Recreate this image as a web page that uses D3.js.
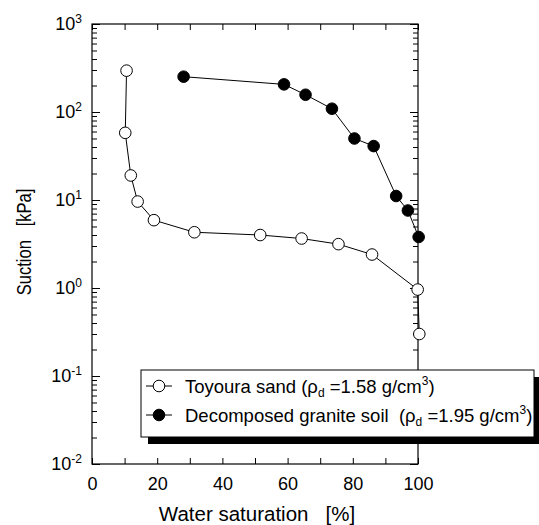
<!DOCTYPE html>
<html>
<head>
<meta charset="utf-8">
<script src="https://cdn.jsdelivr.net/npm/d3@7"></script>
<style>
  body { margin: 0; background: #fff; }
  text { font-family: "Liberation Sans", Arial, sans-serif; fill: #000; }
</style>
</head>
<body>
<div id="chart"></div>
<script>
// Toyoura sand (open circles)
var sandSat = [10.6, 10.2, 11.9, 14.0, 19.0, 31.4, 51.6, 64.3, 75.6, 85.9, 99.9, 100.4];
var sandSuction = [295, 58, 19, 9.6, 5.9, 4.3, 4.0, 3.65, 3.15, 2.4, 0.96, 0.30];

// Decomposed granite soil (filled circles)
var graniteSat = [28.1, 58.9, 65.5, 73.6, 80.5, 86.4, 93.3, 96.9, 100.2];
var graniteSuction = [252, 206, 157, 109, 50, 41, 11.1, 7.6, 3.8];

var xTicks = [0, 20, 40, 60, 80, 100];
var yDecades = [1e-2, 1e-1, 1e0, 1e1, 1e2, 1e3];

var width = 539, height = 525;
var plot = { left: 92, right: 418, top: 24, bottom: 464 };

var svg = d3.select('#chart')
            .append('svg')
            .attr('width', width)
            .attr('height', height);

var x = d3.scaleLinear().domain([0, 100]).range([plot.left, plot.right]);
var y = d3.scaleLog().domain([1e-2, 1e3]).range([plot.bottom, plot.top]);

// minor ticks for the log axis
var yMinor = [];
yDecades.slice(0, -1).forEach(function (d) {
	for (var k = 2; k <= 9; k++) yMinor.push(d * k);
});
var xMinor = d3.range(0, 101, 10);

function cleanAxis(g) {
	g.select('.domain').remove();
	g.selectAll('.tick line').attr('stroke', '#000').attr('stroke-width', 1);
}

// frame
svg.append('rect')
   .attr('x', plot.left).attr('y', plot.top)
   .attr('width', plot.right - plot.left)
   .attr('height', plot.bottom - plot.top)
   .attr('fill', 'none').attr('stroke', '#000').attr('stroke-width', 1.2);

// bottom axis with labels
svg.append('g')
   .attr('transform', 'translate(0,' + plot.bottom + ')')
   .call(d3.axisBottom(x).tickValues(xMinor).tickSize(-6).tickPadding(13)
          .tickFormat(function (d) { return xTicks.indexOf(d) >= 0 ? d : ''; }))
   .call(cleanAxis)
   .call(function (g) { g.selectAll('text').attr('font-size', 18); });

// top axis
svg.append('g')
   .attr('transform', 'translate(0,' + plot.top + ')')
   .call(d3.axisTop(x).tickValues(xMinor).tickSize(-6).tickFormat(''))
   .call(cleanAxis);

// left axis major
svg.append('g')
   .attr('transform', 'translate(' + plot.left + ',0)')
   .call(d3.axisLeft(y).tickValues(yDecades).tickSize(-8).tickPadding(10))
   .call(cleanAxis)
   .call(function (g) {
	   g.selectAll('.tick text').each(function (d) {
		   var t = d3.select(this).text(null).attr('font-size', 18);
		   t.append('tspan').text('10');
		   t.append('tspan').attr('dy', '-0.6em').attr('font-size', 12)
		    .text(Math.round(Math.log10(d)));
	   });
   });

// left axis minor
svg.append('g')
   .attr('transform', 'translate(' + plot.left + ',0)')
   .call(d3.axisLeft(y).tickValues(yMinor).tickSize(-5).tickFormat(''))
   .call(cleanAxis);

// right axis major + minor
svg.append('g')
   .attr('transform', 'translate(' + plot.right + ',0)')
   .call(d3.axisRight(y).tickValues(yDecades).tickSize(-8).tickFormat(''))
   .call(cleanAxis);
svg.append('g')
   .attr('transform', 'translate(' + plot.right + ',0)')
   .call(d3.axisRight(y).tickValues(yMinor).tickSize(-5).tickFormat(''))
   .call(cleanAxis);

// axis titles
svg.append('text')
   .attr('x', 257).attr('y', 521)
   .attr('text-anchor', 'middle').attr('font-size', 20.5)
   .attr('xml:space', 'preserve')
   .text('Water saturation   [%]');

// the scan is slightly stretched sideways, so the vertical title is squeezed along its length
svg.append('text')
   .attr('transform', 'translate(31,242) rotate(-90) scale(0.92,1.15)')
   .attr('text-anchor', 'middle').attr('font-size', 18)
   .attr('xml:space', 'preserve')
   .text('Suction   [kPa]');

// series
var line = d3.line()
             .x(function (d) { return x(d[0]); })
             .y(function (d) { return y(d[1]); });

var sand = d3.zip(sandSat, sandSuction);
var granite = d3.zip(graniteSat, graniteSuction);

[[sand, '#fff'], [granite, '#000']].forEach(function (s) {
	svg.append('path')
	   .datum(s[0])
	   .attr('d', line)
	   .attr('fill', 'none').attr('stroke', '#000').attr('stroke-width', 1);
	svg.append('g').selectAll('circle')
	   .data(s[0])
	   .enter()
	   .append('circle')
	   .attr('cx', function (d) { return x(d[0]); })
	   .attr('cy', function (d) { return y(d[1]); })
	   .attr('r', 5.8)
	   .attr('fill', s[1])
	   .attr('stroke', '#000').attr('stroke-width', 1);
});

// legend with drop shadow
var lg = svg.append('g').attr('transform', 'translate(141,370)');
lg.append('rect').attr('x', 7).attr('y', 7).attr('width', 393).attr('height', 67).attr('fill', '#000');
lg.append('rect').attr('x', 0).attr('y', 0).attr('width', 393).attr('height', 67)
  .attr('fill', '#fff').attr('stroke', '#000').attr('stroke-width', 1);

var legendItems = [
	{ name: 'Toyoura sand (', rho: '=1.58 g/cm', tail: ')', fill: '#fff' },
	{ name: 'Decomposed granite soil  (', rho: '=1.95 g/cm', tail: ')', fill: '#000' }
];

legendItems.forEach(function (it, i) {
	var cy = 16 + i * 29;
	lg.append('line').attr('x1', 5).attr('x2', 31).attr('y1', cy).attr('y2', cy)
	  .attr('stroke', '#000').attr('stroke-width', 1);
	lg.append('circle').attr('cx', 18).attr('cy', cy).attr('r', 5.8)
	  .attr('fill', it.fill).attr('stroke', '#000');
	var t = lg.append('text').attr('x', 44).attr('y', cy + 6.5).attr('font-size', 18.5)
	          .attr('xml:space', 'preserve');
	t.append('tspan').text(it.name + '\u03c1');
	t.append('tspan').attr('dy', 4).attr('font-size', 12).text('d');
	t.append('tspan').attr('dy', -4).text(' ' + it.rho);
	t.append('tspan').attr('dy', -7.5).attr('font-size', 12).text('3');
	t.append('tspan').attr('dy', 7.5).text(it.tail);
});
</script>
</body>
</html>
